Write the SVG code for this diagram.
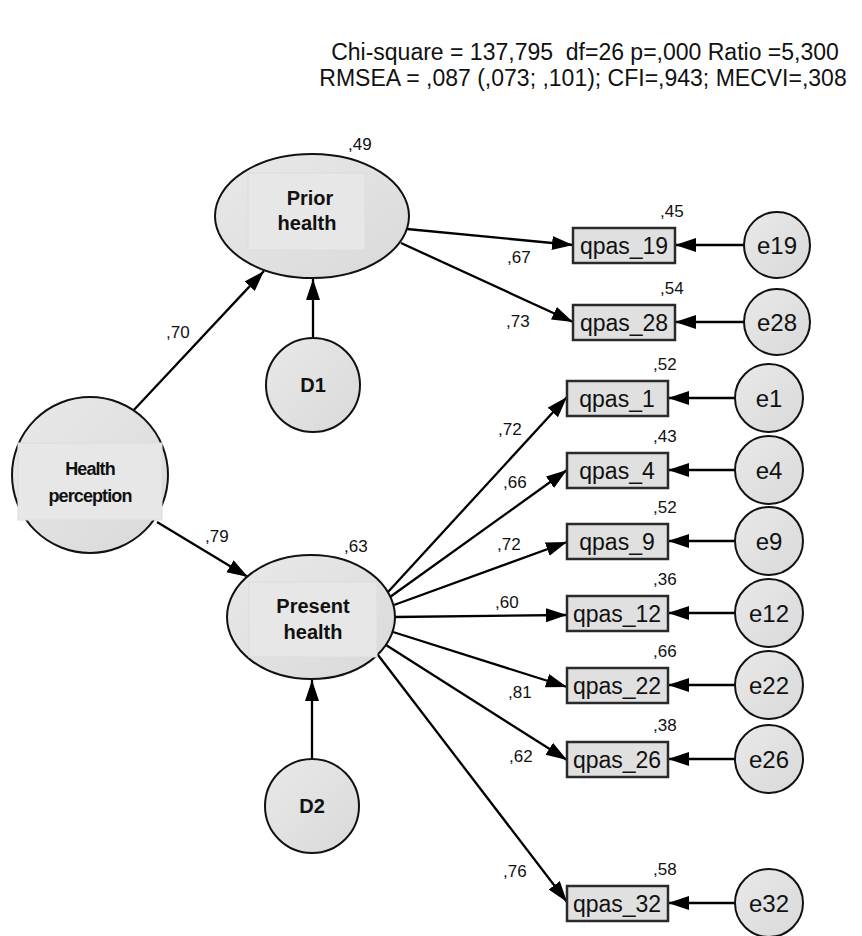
<svg xmlns="http://www.w3.org/2000/svg" width="862" height="936" viewBox="0 0 862 936">
<defs>
<linearGradient id="g" x1="0" y1="0" x2="1" y2="1">
<stop offset="0" stop-color="#e9e9e9"/>
<stop offset="1" stop-color="#d9d9d9"/>
</linearGradient>
<marker id="ah" markerUnits="userSpaceOnUse" markerWidth="22" markerHeight="16" refX="21" refY="7" orient="auto">
<path d="M0,0 L21,7 L0,14 z" fill="#000"/>
</marker>
</defs>
<style>
text{font-family:"Liberation Sans",Arial,sans-serif;fill:#111}
.lat{fill:url(#g);stroke:#111;stroke-width:2}
.inner{fill:#e7e7e7;stroke:#dcdcdc;stroke-width:1}
.box{fill:#e0e0e0;stroke:#2a2a2a;stroke-width:2.5}
.err{fill:url(#g);stroke:#111;stroke-width:2}
.ln{stroke:#000;stroke-width:2.3;fill:none;marker-end:url(#ah)}
.big{font-size:23px;white-space:pre}
.lb{font-size:20px;font-weight:bold;text-anchor:middle}
.bt{font-size:23px;text-anchor:middle}
.et{font-size:24px;text-anchor:middle}
.co{font-size:17px}
</style>
<rect width="862" height="936" fill="#fff"/>
<g id="title">
<text class="big" x="585" y="60" text-anchor="middle" xml:space="preserve">Chi-square = 137,795  df=26 p=,000 Ratio =5,300</text>
<text class="big" x="583" y="86" text-anchor="middle">RMSEA = ,087 (,073; ,101); CFI=,943; MECVI=,308</text>
</g>
<g id="connectors">
<line class="ln" x1="132" y1="412" x2="264" y2="271"/>
<line class="ln" x1="157" y1="522" x2="248" y2="577"/>
<line class="ln" x1="313" y1="338" x2="313" y2="279"/>
<line class="ln" x1="312" y1="759" x2="312" y2="680"/>
<line class="ln" x1="407" y1="229" x2="573" y2="245"/>
<line class="ln" x1="401" y1="243" x2="573" y2="322"/>
<line class="ln" x1="388" y1="592" x2="567" y2="397"/>
<line class="ln" x1="390" y1="597" x2="567" y2="470"/>
<line class="ln" x1="394" y1="605" x2="567" y2="542"/>
<line class="ln" x1="395" y1="617" x2="567" y2="615"/>
<line class="ln" x1="393" y1="632" x2="567" y2="687"/>
<line class="ln" x1="386" y1="645" x2="567" y2="760"/>
<line class="ln" x1="378" y1="655" x2="567" y2="902"/>
<line class="ln" x1="744" y1="245" x2="675" y2="245"/>
<line class="ln" x1="744" y1="322" x2="675" y2="322"/>
<line class="ln" x1="735" y1="398" x2="668" y2="398"/>
<line class="ln" x1="735" y1="470" x2="668" y2="470"/>
<line class="ln" x1="735" y1="541" x2="668" y2="541"/>
<line class="ln" x1="735" y1="613" x2="668" y2="613"/>
<line class="ln" x1="735" y1="685" x2="668" y2="685"/>
<line class="ln" x1="735" y1="759" x2="668" y2="759"/>
<line class="ln" x1="735" y1="903" x2="668" y2="903"/>
<text class="co" x="166" y="338">,70</text>
<text class="co" x="205" y="542">,79</text>
<text class="co" x="507" y="263">,67</text>
<text class="co" x="506" y="327">,73</text>
<text class="co" x="498" y="435">,72</text>
<text class="co" x="503" y="488">,66</text>
<text class="co" x="497" y="550">,72</text>
<text class="co" x="495" y="608">,60</text>
<text class="co" x="508" y="698">,81</text>
<text class="co" x="509" y="762">,62</text>
<text class="co" x="503" y="877">,76</text>
</g>
<g id="health_perception">
<circle class="lat" cx="90" cy="475" r="78"/>
<rect class="inner" x="18" y="443" width="144" height="77"/>
<text class="lb" x="90" y="475" style="font-size:18px;letter-spacing:-0.9px">Health</text>
<text class="lb" x="90" y="502" style="font-size:18px;letter-spacing:-0.9px">perception</text>
</g>
<g id="prior_health">
<ellipse class="lat" cx="312" cy="216" rx="97" ry="62"/>
<rect class="inner" x="248" y="173" width="117" height="77"/>
<text class="lb" x="310" y="205">Prior</text>
<text class="lb" x="307" y="230">health</text>
<text class="co" x="348" y="150">,49</text>
</g>
<g id="present_health">
<ellipse class="lat" cx="311" cy="617" rx="84" ry="62"/>
<rect class="inner" x="249" y="582" width="128" height="75"/>
<text class="lb" x="313" y="613">Present</text>
<text class="lb" x="313" y="639">health</text>
<text class="co" x="344" y="552">,63</text>
</g>
<g id="D1">
<circle class="err" cx="313" cy="385" r="47"/>
<text class="lb" x="313" y="392">D1</text>
</g>
<g id="D2">
<circle class="err" cx="312" cy="806" r="47"/>
<text class="lb" x="312" y="813">D2</text>
</g>
<g id="qpas_19"><rect class="box" x="573" y="228" width="102" height="35"/><text class="bt" x="624" y="254">qpas_19</text><text class="co" x="660" y="217">,45</text></g>
<g id="qpas_28"><rect class="box" x="573" y="305" width="102" height="35"/><text class="bt" x="624" y="331">qpas_28</text><text class="co" x="660" y="294">,54</text></g>
<g id="qpas_1"><rect class="box" x="567" y="381" width="101" height="35"/><text class="bt" x="617" y="407">qpas_1</text><text class="co" x="653" y="370">,52</text></g>
<g id="qpas_4"><rect class="box" x="567" y="453" width="101" height="35"/><text class="bt" x="617" y="479">qpas_4</text><text class="co" x="653" y="442">,43</text></g>
<g id="qpas_9"><rect class="box" x="567" y="524" width="101" height="35"/><text class="bt" x="617" y="550">qpas_9</text><text class="co" x="653" y="513">,52</text></g>
<g id="qpas_12"><rect class="box" x="567" y="596" width="101" height="35"/><text class="bt" x="617" y="622">qpas_12</text><text class="co" x="653" y="585">,36</text></g>
<g id="qpas_22"><rect class="box" x="567" y="668" width="101" height="35"/><text class="bt" x="617" y="694">qpas_22</text><text class="co" x="653" y="657">,66</text></g>
<g id="qpas_26"><rect class="box" x="567" y="742" width="101" height="35"/><text class="bt" x="617" y="768">qpas_26</text><text class="co" x="653" y="731">,38</text></g>
<g id="qpas_32"><rect class="box" x="567" y="886" width="101" height="35"/><text class="bt" x="617" y="912">qpas_32</text><text class="co" x="653" y="875">,58</text></g>
<g id="e19"><circle class="err" cx="777" cy="245" r="33"/><text class="et" x="777" y="254">e19</text></g>
<g id="e28"><circle class="err" cx="777" cy="322" r="33"/><text class="et" x="777" y="331">e28</text></g>
<g id="e1"><circle class="err" cx="769" cy="398" r="34"/><text class="et" x="769" y="407">e1</text></g>
<g id="e4"><circle class="err" cx="769" cy="470" r="34"/><text class="et" x="769" y="479">e4</text></g>
<g id="e9"><circle class="err" cx="769" cy="541" r="34"/><text class="et" x="769" y="550">e9</text></g>
<g id="e12"><circle class="err" cx="769" cy="613" r="34"/><text class="et" x="769" y="622">e12</text></g>
<g id="e22"><circle class="err" cx="769" cy="685" r="34"/><text class="et" x="769" y="694">e22</text></g>
<g id="e26"><circle class="err" cx="769" cy="759" r="34"/><text class="et" x="769" y="768">e26</text></g>
<g id="e32"><circle class="err" cx="769" cy="903" r="34"/><text class="et" x="769" y="912">e32</text></g>
</svg>
